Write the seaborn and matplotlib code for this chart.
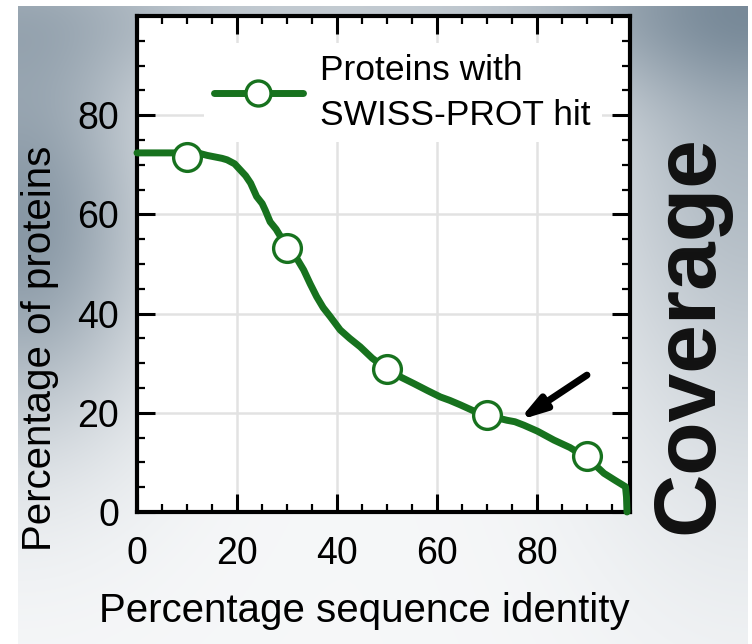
import numpy as np
import pandas as pd
import matplotlib
matplotlib.use("Agg")
import matplotlib.pyplot as plt
from matplotlib.lines import Line2D
from matplotlib.ticker import MultipleLocator
import seaborn as sns

# curve
identity = [0, 5, 10, 12.5, 14, 15.5, 17, 18, 19.5, 20.6, 21.7, 22.7, 23.9, 25.0,
            25.6, 26.6, 27.8, 29.0, 30.5, 32.0, 33.3, 34.6, 35.9, 37.2, 38.6, 40.6,
            42.5, 44.6, 47.0, 49.9, 52.5, 55.3, 58.0, 60.6, 62.5, 64.6, 67.0, 69.3,
            71.5, 73.9, 75.5, 77.3, 80.0, 83.3, 86.5, 89.4, 91.5, 93.3, 95.5, 97.6,
            97.8, 97.9]
coverage = [72.4, 72.4, 72.4, 72.3, 71.9, 71.6, 71.3, 71.0, 70.2, 69.0, 67.8, 66.3,
            63.6, 62.2, 60.9, 58.5, 57.0, 55.0, 53.2, 51.0, 48.8, 46.0, 43.4, 41.2,
            39.4, 36.7, 35.0, 33.3, 31.0, 28.8, 27.3, 25.9, 24.5, 23.2, 22.5, 21.6,
            20.5, 19.6, 19.1, 18.5, 18.2, 17.5, 16.3, 14.5, 13.0, 11.2, 9.5, 7.8,
            6.4, 5.1, 3.0, 0.0]
marker_x = [10, 30, 50, 70, 90]
marker_y = [71.5, 53.2, 28.8, 19.6, 11.2]
legend_label = "Proteins with\nSWISS-PROT hit"

GREEN = "#17721e"

sns.set_style("ticks")
plt.rcParams["font.family"] = ["Liberation Sans", "DejaVu Sans"]
plt.rcParams["text.color"] = "black"
plt.rcParams["xtick.labelcolor"] = "black"
plt.rcParams["ytick.labelcolor"] = "black"
plt.rcParams["axes.labelcolor"] = "black"

W, H = 752, 644
fig = plt.figure(figsize=(W / 100, H / 100), dpi=100)
fig.patch.set_facecolor("white")

# slide-like gray gradient background
bg_ax = fig.add_axes([18 / W, 0, (748 - 18) / W, 1 - 6 / H], zorder=-5)
yy, xx = np.mgrid[6:644, 18:748]
d = (0.85 * np.exp(-((xx - 20) ** 2 / (2 * 100 ** 2) + (yy - 220) ** 2 / (2 * 150 ** 2)))
     + 0.6 * np.exp(-((xx - 748) ** 2 / (2 * 120 ** 2) + (yy - 80) ** 2 / (2 * 260 ** 2)))
     + 0.4 * np.exp(-(yy - 6) ** 2 / (2 * 60 ** 2)))
d = np.clip(d, 0, 1)[..., None]
light = np.array([0.965, 0.97, 0.975])
dark = np.array([0.46, 0.53, 0.59])
bg_ax.imshow(light * (1 - d) + dark * d, aspect="auto", interpolation="bilinear")
bg_ax.axis("off")

ax = fig.add_axes([137 / W, 1 - 512 / H, (630 - 137) / W, (512 - 16) / H])
ax.set_facecolor("white")

df = pd.DataFrame({"identity": identity, "coverage": coverage})
mk = pd.DataFrame({"identity": marker_x, "coverage": marker_y})
sns.lineplot(data=df, x="identity", y="coverage", ax=ax, color=GREEN, linewidth=5,
             sort=False, estimator=None, zorder=3, clip_on=False)
sns.scatterplot(data=mk, x="identity", y="coverage", ax=ax, s=400, color="white",
                edgecolor=GREEN, linewidth=2.4, zorder=4)

ax.set_xlim(0, 98.5)
ax.set_ylim(0, 100)
ax.xaxis.set_minor_locator(MultipleLocator(5))
ax.yaxis.set_minor_locator(MultipleLocator(5))
ax.set_xticks([0, 20, 40, 60, 80])
ax.set_yticks([0, 20, 40, 60, 80])
ax.grid(True, which="major", color="#e2e2e2", lw=1.8, zorder=0)
ax.set_axisbelow(True)

ax.tick_params(which="major", direction="in", length=13, width=2.2, color="black",
               top=True, right=True, labelsize=27)
ax.tick_params(which="minor", direction="in", length=6, width=1.6, color="black",
               top=True, right=True)
ax.tick_params(axis="x", pad=17)
ax.tick_params(axis="y", pad=13)
for s in ax.spines.values():
    s.set_linewidth(3)
    s.set_color("black")

ax.set_xlabel("Percentage sequence identity", fontsize=29)
ax.set_ylabel("Percentage of proteins", fontsize=29)
ax.xaxis.set_label_coords(0.46, -0.162)
ax.yaxis.set_label_coords(-0.158, 0.33)

handle = Line2D([], [], color=GREEN, lw=5, marker="o", markersize=18,
                markerfacecolor="white", markeredgecolor=GREEN, markeredgewidth=2.4)
leg = ax.legend([handle], [legend_label], loc="upper left",
                bbox_to_anchor=(0.135, 0.945), fontsize=25.5, frameon=True,
                facecolor="white", edgecolor="none", framealpha=1, fancybox=False,
                handlelength=2.5, handletextpad=0.5, borderpad=0.3, borderaxespad=0)
for t in leg.get_texts():
    t.set_linespacing(1.45)

ax.annotate("", xy=(76.3, 18.5), xytext=(89.9, 27.6),
            arrowprops=dict(arrowstyle="-|>,head_length=1.5,head_width=0.45",
                            lw=5, color="black", shrinkA=0, shrinkB=0),
            zorder=5)

fig.text(690 / W, 1 - 335 / H, "Coverage", rotation=90, ha="center", va="center",
         fontsize=63, fontweight="bold", color="#111111")

fig.savefig("out.png", dpi=100)
